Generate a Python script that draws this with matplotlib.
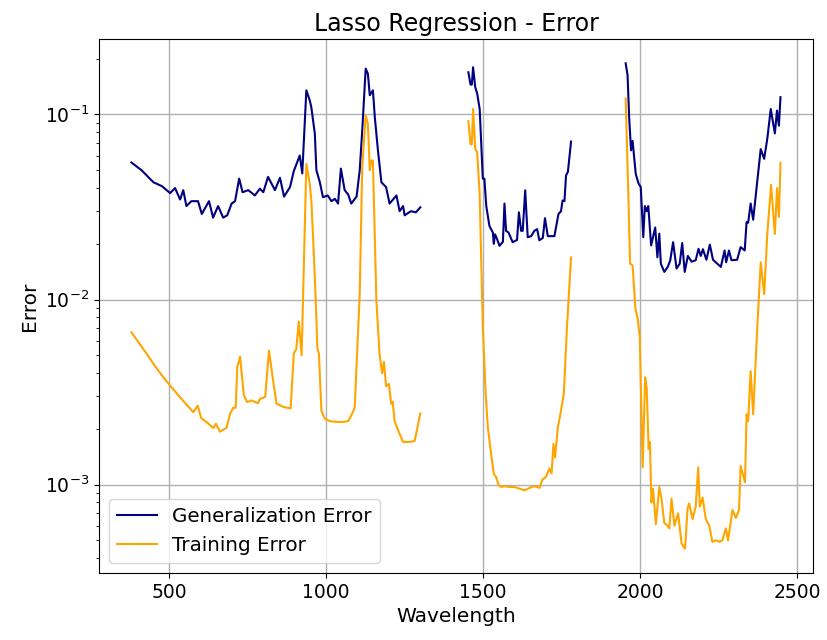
import matplotlib
matplotlib.use("Agg")
import matplotlib.pyplot as plt
import numpy as np

nan = np.nan

# generalization error, three spectral windows separated by NaN gaps
wl_gen = [380, 412, 450, 477, 503, 519, 535, 545, 555, 571, 592, 604, 627, 640, 656,
          672, 685, 699, 710, 723, 734, 752, 773, 789, 800, 815, 837, 853, 866, 885,
          897, 916, 924, 937, 948, 953, 964, 969, 980, 990, 1005, 1017, 1028, 1038,
          1047, 1059, 1070, 1080, 1097, 1107, 1115, 1126, 1133, 1139, 1149, 1155,
          1165, 1176, 1191, 1202, 1224, 1234, 1245, 1250, 1270, 1286, 1300,
          1375,
          1453, 1460, 1464, 1468, 1475, 1481, 1489, 1499, 1504, 1510, 1520, 1531,
          1534, 1538, 1544, 1552, 1563, 1568, 1573, 1581, 1594, 1608, 1614, 1621,
          1626, 1634, 1642, 1653, 1663, 1672, 1679, 1690, 1697, 1706, 1717, 1727,
          1740, 1748, 1753, 1759, 1764, 1770, 1780,
          1870,
          1954, 1960, 1965, 1971, 1976, 1986, 1995, 2002, 2010, 2015, 2021, 2026,
          2035, 2048, 2055, 2061, 2066, 2077, 2088, 2096, 2105, 2116, 2126, 2134,
          2142, 2152, 2164, 2177, 2186, 2193, 2200, 2211, 2222, 2232, 2246, 2257,
          2269, 2274, 2283, 2291, 2309, 2320, 2333, 2339, 2344, 2352, 2360, 2371,
          2384, 2395, 2405, 2416, 2429, 2436, 2442, 2447]
gen_err = [0.055, 0.050, 0.043, 0.041, 0.0376, 0.040, 0.0347, 0.039, 0.032, 0.034,
           0.034, 0.029, 0.034, 0.0277, 0.032, 0.0277, 0.0285, 0.033, 0.034, 0.045,
           0.038, 0.039, 0.0365, 0.0397, 0.038, 0.046, 0.039, 0.0455, 0.036, 0.0405,
           0.0494, 0.060, 0.048, 0.135, 0.119, 0.109, 0.0787, 0.050, 0.043, 0.0357,
           0.0365, 0.034, 0.035, 0.033, 0.051, 0.039, 0.037, 0.033, 0.036, 0.050,
           0.082, 0.177, 0.166, 0.127, 0.135, 0.097, 0.064, 0.043, 0.0405, 0.033,
           0.0365, 0.030, 0.032, 0.0285, 0.030, 0.0296, 0.0315,
           nan,
           0.169, 0.145, 0.145, 0.180, 0.140, 0.130, 0.107, 0.045, 0.045, 0.032,
           0.025, 0.023, 0.020, 0.0225, 0.0213, 0.0195, 0.0205, 0.033, 0.0235,
           0.023, 0.0204, 0.021, 0.0296, 0.0235, 0.0235, 0.0389, 0.0217, 0.022,
           0.0235, 0.024, 0.0209, 0.0215, 0.0275, 0.022, 0.022, 0.022, 0.029,
           0.030, 0.0343, 0.034, 0.0468, 0.049, 0.0714,
           nan,
           0.189, 0.163, 0.097, 0.064, 0.072, 0.0478, 0.0423, 0.0405, 0.0217,
           0.032, 0.030, 0.032, 0.0196, 0.0245, 0.0169, 0.0227, 0.0156, 0.0141,
           0.015, 0.0163, 0.0204, 0.0147, 0.0156, 0.0202, 0.0141, 0.0172, 0.016,
           0.0163, 0.0188, 0.0172, 0.0187, 0.0164, 0.0198, 0.0164, 0.0156, 0.015,
           0.0184, 0.0159, 0.0184, 0.0163, 0.0164, 0.0192, 0.0184, 0.0262, 0.026,
           0.033, 0.027, 0.0404, 0.065, 0.0576, 0.074, 0.107, 0.079, 0.105, 0.087,
           0.124]

# training error on the same windows
wl_train = [380, 402, 429, 450, 477, 503, 535, 577, 591, 602, 620, 641, 649, 662,
            683, 694, 704, 712, 717, 726, 738, 749, 762, 783, 789, 806, 818, 831,
            842, 863, 887, 897, 905, 913, 922, 937, 948, 953, 958, 967, 972, 977,
            985, 996, 1012, 1033, 1054, 1070, 1080, 1091, 1107, 1115, 1126, 1133,
            1139, 1144, 1149, 1160, 1170, 1178, 1184, 1191, 1200, 1207, 1212, 1218,
            1234, 1245, 1266, 1282, 1290, 1300,
            1375,
            1453, 1460, 1464, 1468, 1475, 1481, 1489, 1499, 1508, 1515, 1526, 1534,
            1541, 1550, 1557, 1568, 1584, 1600, 1616, 1632, 1648, 1664, 1680, 1688,
            1700, 1711, 1718, 1724, 1729, 1738, 1746, 1757, 1767, 1780,
            1870,
            1954, 1962, 1968, 1976, 1985, 1992, 1999, 2008, 2016, 2021, 2027, 2031,
            2036, 2041, 2050, 2061, 2068, 2077, 2087, 2093, 2100, 2109, 2121, 2132,
            2143, 2151, 2156, 2167, 2177, 2185, 2190, 2199, 2209, 2220, 2230, 2241,
            2252, 2262, 2273, 2280, 2294, 2305, 2315, 2320, 2334, 2339, 2344, 2352,
            2360, 2371, 2384, 2395, 2405, 2417, 2429, 2436, 2442, 2447]
train_err = [0.00665, 0.00588, 0.00508, 0.00449, 0.00389, 0.00343, 0.00296,
             0.00246, 0.00267, 0.00229, 0.00217, 0.00202, 0.00213, 0.00193,
             0.00203, 0.00241, 0.0026, 0.0026, 0.0043, 0.00492, 0.00303, 0.00279,
             0.00285, 0.00275, 0.0029, 0.00298, 0.0053, 0.00366, 0.00274, 0.00263,
             0.00258, 0.0051, 0.0054, 0.0076, 0.005, 0.054, 0.042, 0.034, 0.0226,
             0.0099, 0.0055, 0.0051, 0.0025, 0.00227, 0.0022, 0.00218, 0.00218,
             0.0022, 0.00236, 0.0026, 0.0107, 0.052, 0.099, 0.089, 0.050, 0.0564,
             0.0564, 0.0099, 0.0051, 0.004, 0.0046, 0.0034, 0.0035, 0.00273,
             0.0028, 0.0022, 0.00188, 0.0017, 0.0017, 0.00172, 0.0020, 0.00242,
             nan,
             0.092, 0.069, 0.069, 0.107, 0.065, 0.0625, 0.037, 0.0071, 0.0031,
             0.00204, 0.00144, 0.00114, 0.0011, 0.00099, 0.00097, 0.00098, 0.00097,
             0.00097, 0.00095, 0.00093, 0.00096, 0.00098, 0.00096, 0.00106, 0.0011,
             0.00122, 0.00115, 0.00166, 0.0014, 0.00204, 0.0024, 0.0031, 0.0071,
             0.0169,
             nan,
             0.122, 0.039, 0.0156, 0.0153, 0.0089, 0.0079, 0.00625, 0.00124, 0.0038,
             0.0033, 0.00156, 0.0017, 0.0008, 0.00095, 0.00061, 0.00097, 0.00084,
             0.00062, 0.0006, 0.00058, 0.00084, 0.0006, 0.0007, 0.00048, 0.00045,
             0.00074, 0.00079, 0.00065, 0.00076, 0.00124, 0.00076, 0.00085,
             0.00065, 0.0006, 0.00049, 0.0005, 0.00049, 0.0005, 0.00058, 0.0005,
             0.00073, 0.00066, 0.00073, 0.00126, 0.00103, 0.0024, 0.0022, 0.0041,
             0.0024, 0.006, 0.0159, 0.0107, 0.0226, 0.0417, 0.0226, 0.040, 0.028,
             0.0546]

fig = plt.figure(figsize=(8.27, 6.4), dpi=100)
ax = fig.add_axes([0.1197, 0.1047, 0.8633, 0.8343])

ax.plot(wl_gen, gen_err, color="navy", lw=1.5, label="Generalization Error")
ax.plot(wl_train, train_err, color="orange", lw=1.5, label="Training Error")

ax.set_yscale("log")
ax.set_xticks([500, 1000, 1500, 2000, 2500])
ax.grid(True, which="major", color="#b0b0b0", lw=1.0)
ax.tick_params(labelsize=13.5)
ax.set_xlabel("Wavelength", fontsize=14.5)
ax.set_ylabel("Error", fontsize=14.5)
ax.set_title("Lasso Regression - Error", fontsize=17)
ax.legend(loc="lower left", fontsize=14.3)

fig.savefig("out.png", dpi=100)
